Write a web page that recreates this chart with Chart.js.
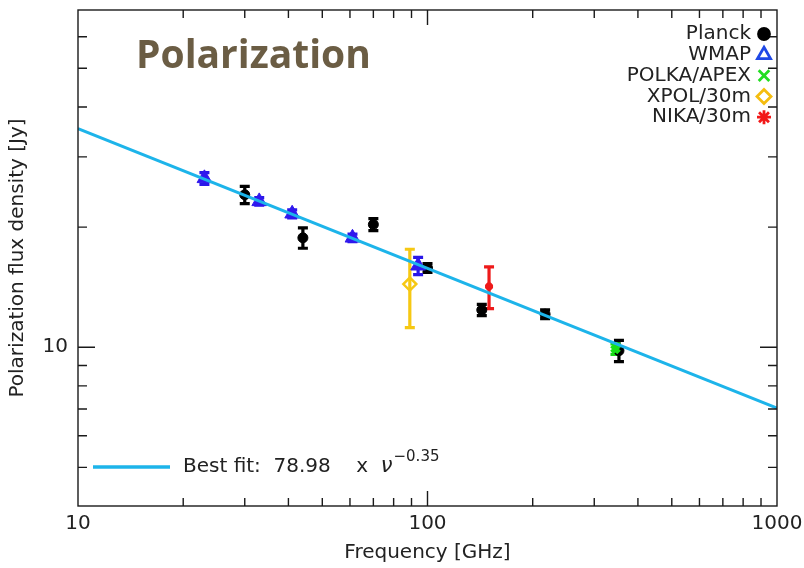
<!DOCTYPE html>
<html>
<head>
<meta charset="utf-8">
<script src="https://cdn.jsdelivr.net/npm/chart.js@4.4.1/dist/chart.umd.min.js"></script>
<style>
  body { margin: 0; background: #fff; }
  #wrap { width: 804px; height: 568px; }
</style>
</head>
<body>
<div id="wrap"><canvas id="pol"></canvas></div>
<script>
// frequency in GHz, polarized flux density in Jy, 1-sigma errors
var planckFreq = [30, 44, 70, 100, 143, 217, 353];
var planckFlux = [24.1, 18.8, 20.3, 15.8, 12.4, 12.1, 9.8];
var planckErr  = [1.2, 1.1, 0.7, 0.4, 0.4, 0.3, 0.6];

var wmapFreq = [23, 33, 41, 61, 94];
var wmapFlux = [26.5, 23.2, 21.6, 18.8, 16.0];
var wmapErr  = [0.9, 0.5, 0.5, 0.4, 0.8];

var polkaFreq = [345];
var polkaFlux = [9.9];
var polkaErr  = [0.3];

var xpolFreq = [89];
var xpolFlux = [14.4];
var xpolErr  = [3.2];

var nikaFreq = [150];
var nikaFlux = [14.2];
var nikaErr  = [1.7];

// power law fit  S = A * nu^k
var fitA = 78.98;
var fitK = -0.35;
var fitRange = [10, 1000];

var xTickLabels = [10, 100, 1000];
var yTickLabels = [10];

var AXIS_FONT = '"DejaVu Sans", sans-serif';

function pts(f, s) {
    return f.map(function(v, i) { return { x: v, y: s[i] }; });
}

var fitPts = fitRange.map(function(v) { return { x: v, y: fitA * Math.pow(v, fitK) }; });

// vertical error bars with caps, under the markers
var errorBars = {
    id: 'errorBars',
    beforeDatasetsDraw: function(chart) {
        var ctx = chart.ctx, ys = chart.scales.y;
        ctx.save();
        chart.data.datasets.forEach(function(ds, i) {
            if (!ds.errors) return;
            var meta = chart.getDatasetMeta(i);
            ctx.strokeStyle = ds.errColor;
            ctx.lineWidth = 3.2;
            meta.data.forEach(function(el, j) {
                var v = ds.data[j].y, e = ds.errors[j];
                var yTop = ys.getPixelForValue(v + e);
                var yBot = ys.getPixelForValue(v - e);
                ctx.beginPath();
                ctx.moveTo(el.x, yTop); ctx.lineTo(el.x, yBot);
                ctx.moveTo(el.x - 5, yTop); ctx.lineTo(el.x + 5, yTop);
                ctx.moveTo(el.x - 5, yBot); ctx.lineTo(el.x + 5, yBot);
                ctx.stroke();
            });
        });
        ctx.restore();
    }
};

// box, inward ticks on all sides, decade labels
var frameTicks = {
    id: 'frameTicks',
    afterDraw: function(chart) {
        var ctx = chart.ctx, a = chart.chartArea, xs = chart.scales.x, ys = chart.scales.y;
        ctx.save();
        ctx.strokeStyle = '#1a1a1a';
        ctx.lineWidth = 1.4;
        ctx.strokeRect(a.left, a.top, a.right - a.left, a.bottom - a.top);
        ctx.beginPath();
        var d, m, v, p, len;
        for (d = 10; d < 1000; d *= 10) {
            for (m = 1; m <= 9; m++) {
                v = d * m;
                if (v <= xs.min || v >= xs.max) continue;
                p = xs.getPixelForValue(v);
                len = m === 1 ? 15 : 8;
                ctx.moveTo(p, a.bottom); ctx.lineTo(p, a.bottom - len);
                ctx.moveTo(p, a.top); ctx.lineTo(p, a.top + len);
            }
        }
        for (d = 1; d < 100; d *= 10) {
            for (m = 1; m <= 9; m++) {
                v = d * m;
                if (v <= ys.min || v >= ys.max) continue;
                p = ys.getPixelForValue(v);
                len = m === 1 ? 17 : 9;
                ctx.moveTo(a.left, p); ctx.lineTo(a.left + len, p);
                ctx.moveTo(a.right, p); ctx.lineTo(a.right - len, p);
            }
        }
        ctx.stroke();

        ctx.fillStyle = '#222';
        ctx.font = '20px ' + AXIS_FONT;
        ctx.textAlign = 'center';
        ctx.textBaseline = 'middle';
        xTickLabels.forEach(function(t) {
            ctx.fillText(String(t), xs.getPixelForValue(t), a.bottom + 18);
        });
        ctx.textAlign = 'right';
        yTickLabels.forEach(function(t) {
            ctx.fillText(String(t), a.left - 10, ys.getPixelForValue(t));
        });
        ctx.restore();
    }
};

// title, symbol key and fit key
var keys = {
    id: 'keys',
    afterDraw: function(chart) {
        var ctx = chart.ctx;
        ctx.save();
        ctx.fillStyle = '#6b5d44';
        ctx.font = 'bold 39px "Open Sans", sans-serif';
        ctx.textAlign = 'left';
        ctx.textBaseline = 'middle';
        ctx.fillText('Polarization', 136, 57);

        ctx.font = '20px ' + AXIS_FONT;
        ctx.textAlign = 'right';
        var row = 0;
        chart.data.datasets.forEach(function(ds) {
            if (!ds.errors) return;
            var y = 34 + row * 20.8;
            ctx.fillStyle = '#222';
            ctx.fillText(ds.label, 751, y);
            ctx.fillStyle = ds.keyFill;
            ctx.strokeStyle = ds.keyColor;
            ctx.lineWidth = 2.8;
            Chart.helpers.drawPoint(ctx, {
                pointStyle: ds.pointStyle,
                radius: ds.keyRadius,
                borderWidth: 2.8,
                rotation: 0
            }, 764, y);
            row++;
        });

        // fit key
        var fit = chart.data.datasets[0];
        var ky = 467;
        ctx.strokeStyle = fit.borderColor;
        ctx.lineWidth = 3.5;
        ctx.beginPath();
        ctx.moveTo(93, ky); ctx.lineTo(170, ky);
        ctx.stroke();
        ctx.fillStyle = '#222';
        ctx.textAlign = 'left';
        var s = 'Best fit:  ' + fitA.toFixed(2) + '    x  ';
        ctx.font = '20px ' + AXIS_FONT;
        ctx.fillText(s, 183, ky);
        var x = 183 + ctx.measureText(s).width;
        ctx.font = 'italic 21px ' + AXIS_FONT;
        ctx.fillText('\u03bd', x, ky);
        x += ctx.measureText('\u03bd').width + 1;
        ctx.font = '15px ' + AXIS_FONT;
        ctx.fillText('\u2212' + Math.abs(fitK).toFixed(2), x, ky - 10);
        ctx.restore();
    }
};

var ctx = document.getElementById('pol').getContext('2d');
var chart = new Chart(ctx, {
    type: 'scatter',
    data: {
        datasets: [{
            label: 'Best fit',
            data: fitPts,
            showLine: true,
            borderColor: '#1db4ea',
            borderWidth: 3,
            pointRadius: 0,
            order: 0
        }, {
            label: 'Planck',
            data: pts(planckFreq, planckFlux),
            errors: planckErr,
            errColor: '#000',
            pointStyle: 'circle',
            pointRadius: 5,
            backgroundColor: '#000',
            borderColor: '#000',
            keyColor: '#000', keyFill: '#000', keyRadius: 5.5,
            order: 2
        }, {
            label: 'WMAP',
            data: pts(wmapFreq, wmapFlux),
            errors: wmapErr,
            errColor: '#2a17e8',
            pointStyle: 'triangle',
            pointRadius: 8.5,
            backgroundColor: '#3018ee',
            borderColor: '#3018ee',
            keyColor: '#1f48e6', keyFill: 'rgba(0,0,0,0)', keyRadius: 7.5,
            order: 1
        }, {
            label: 'POLKA/APEX',
            data: pts(polkaFreq, polkaFlux),
            errors: polkaErr,
            errColor: '#18d818',
            pointStyle: 'crossRot',
            pointRadius: 5,
            borderWidth: 5,
            backgroundColor: '#18e018',
            borderColor: '#18e018',
            keyColor: '#22dd22', keyFill: 'rgba(0,0,0,0)', keyRadius: 7.5,
            order: 1
        }, {
            label: 'XPOL/30m',
            data: pts(xpolFreq, xpolFlux),
            errors: xpolErr,
            errColor: '#f6c813',
            pointStyle: 'rectRot',
            pointRadius: 6.5,
            borderWidth: 2.5,
            backgroundColor: 'rgba(255,255,255,0)',
            borderColor: '#f6c813',
            keyColor: '#f5bd0f', keyFill: 'rgba(0,0,0,0)', keyRadius: 7,
            order: 1
        }, {
            label: 'NIKA/30m',
            data: pts(nikaFreq, nikaFlux),
            errors: nikaErr,
            errColor: '#ee1a1a',
            pointStyle: 'star',
            pointRadius: 4,
            borderWidth: 3,
            backgroundColor: '#ee1a1a',
            borderColor: '#ee1a1a',
            keyColor: '#f21818', keyFill: '#f21818', keyRadius: 7,
            order: 1
        }]
    },
    options: {
        responsive: true,
        maintainAspectRatio: false,
        animation: false,
        layout: { padding: { top: 8, right: 27, left: 0, bottom: 0 } },
        plugins: {
            legend: { display: false },
            tooltip: { enabled: false }
        },
        scales: {
            x: {
                type: 'logarithmic',
                min: 10,
                max: 1000,
                grid: { display: false },
                border: { display: false },
                ticks: { display: false },
                title: {
                    display: true,
                    text: 'Frequency [GHz]',
                    color: '#222',
                    font: { family: AXIS_FONT, size: 20 },
                    padding: { top: 0, bottom: 3 }
                },
                afterFit: function(s) { s.height = 62; }
            },
            y: {
                type: 'logarithmic',
                min: 4,
                max: 70,
                grid: { display: false },
                border: { display: false },
                ticks: { display: false },
                title: {
                    display: true,
                    text: 'Polarization flux density [Jy]',
                    color: '#222',
                    font: { family: AXIS_FONT, size: 20 },
                    padding: { top: 6, bottom: 0 }
                },
                afterFit: function(s) { s.width = 78; }
            }
        }
    },
    plugins: [errorBars, frameTicks, keys]
});
</script>
</body>
</html>
